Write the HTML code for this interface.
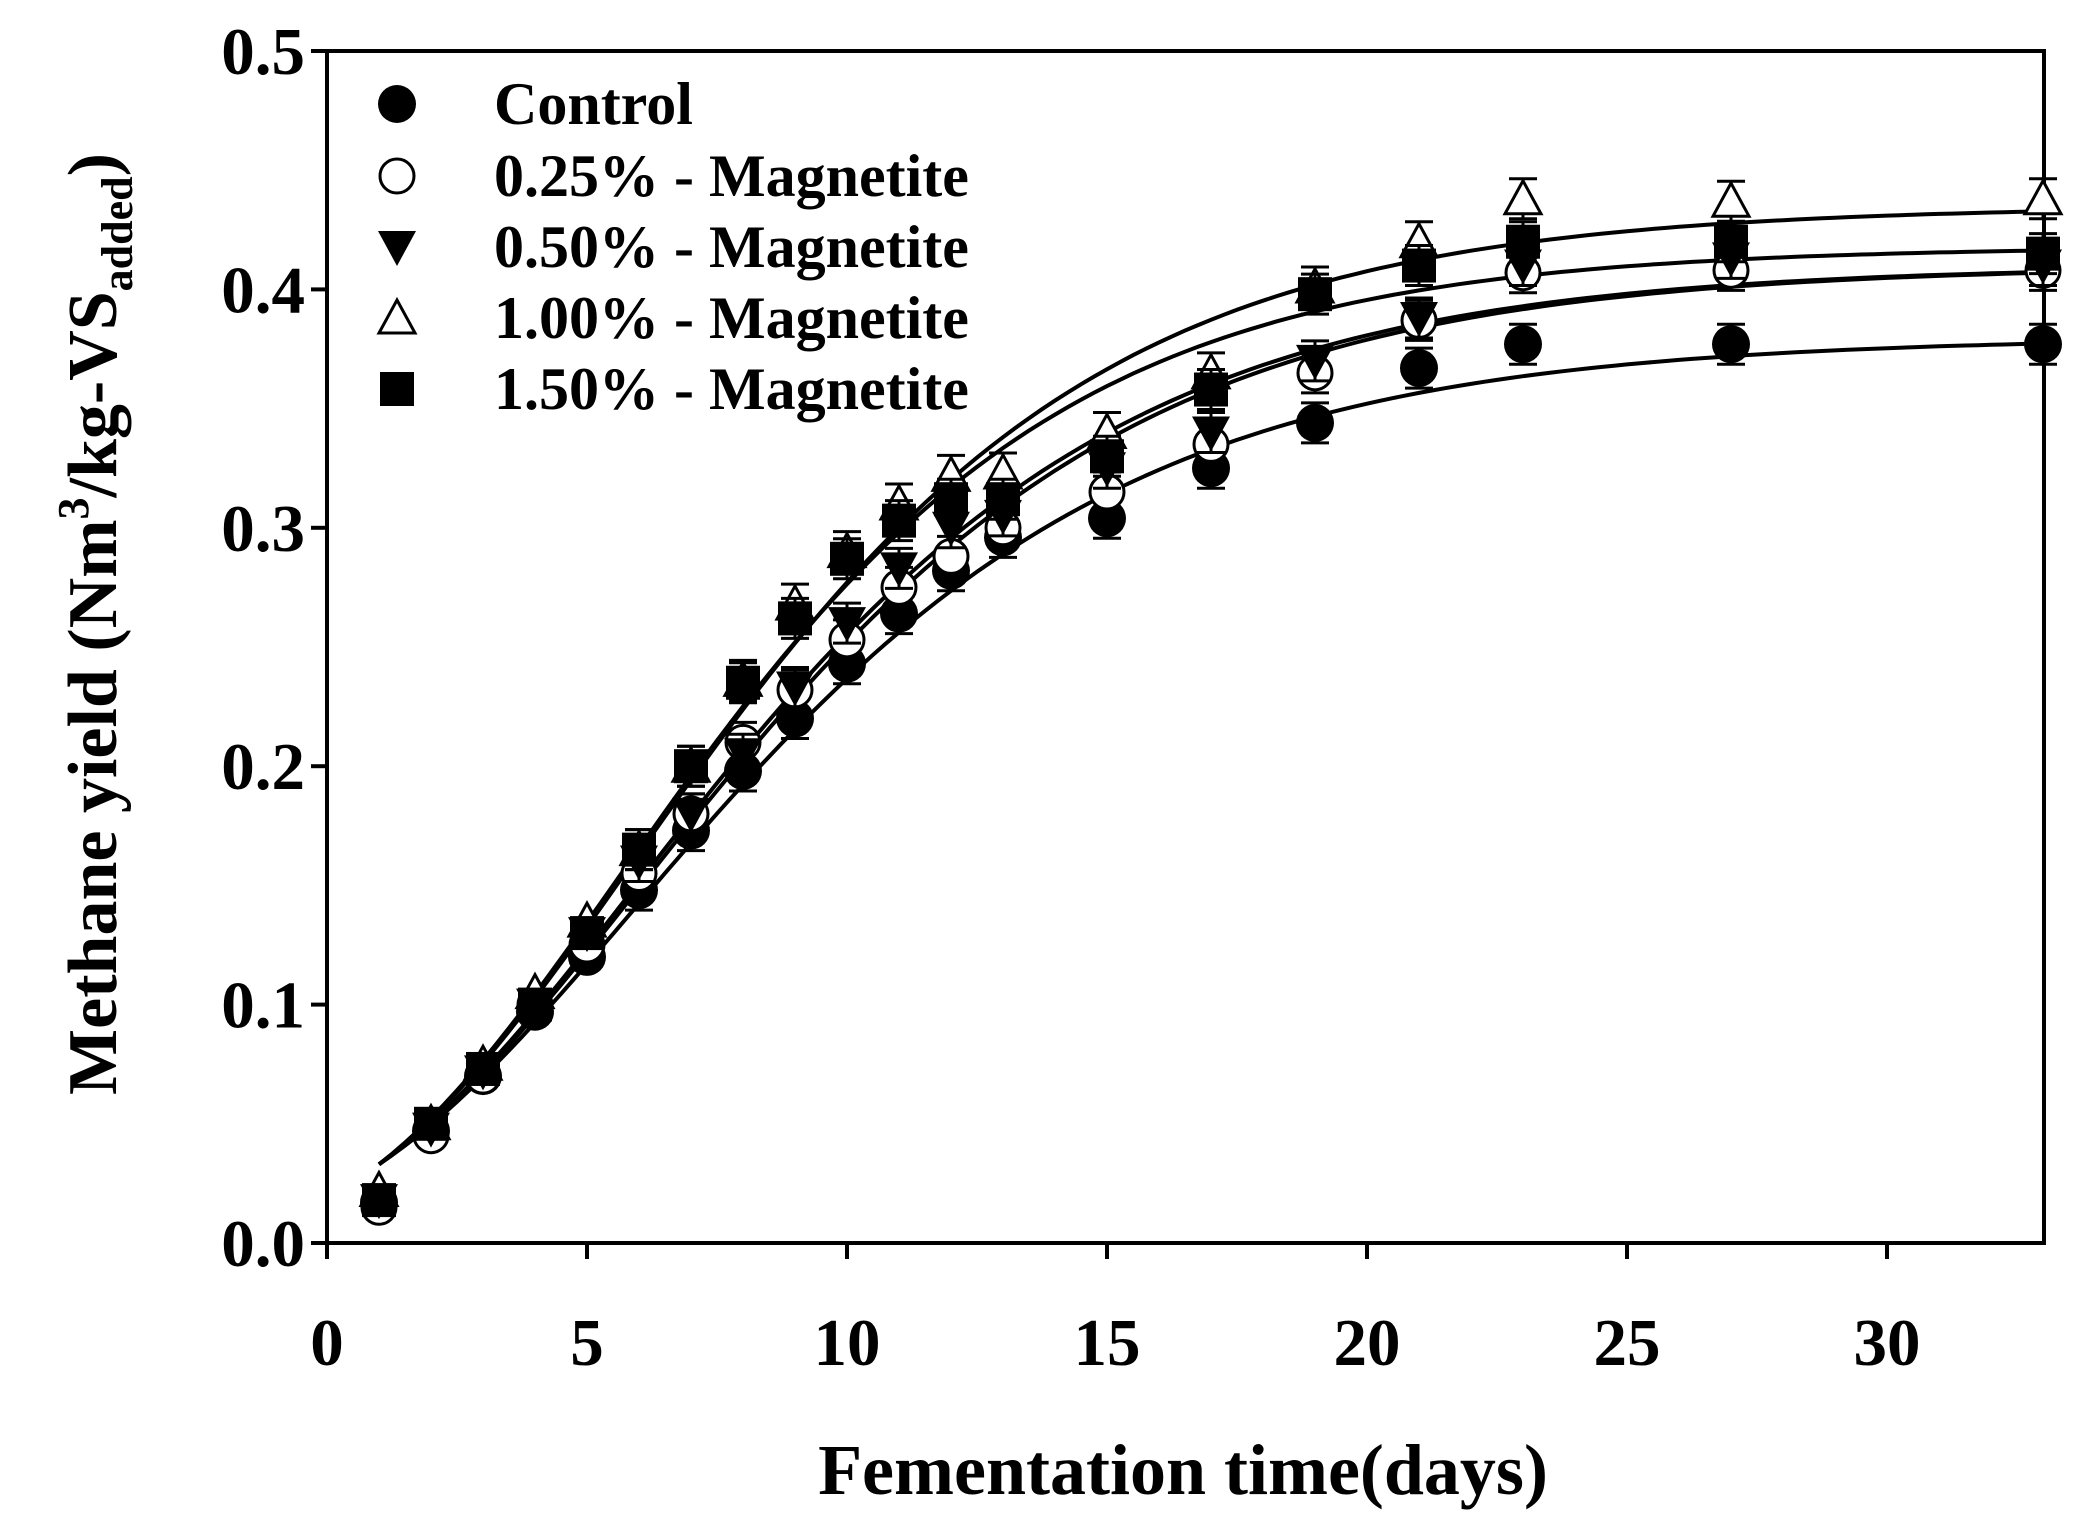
<!DOCTYPE html>
<html><head><meta charset="utf-8"><style>
html,body{margin:0;padding:0;background:#fff}
svg{display:block}
text{font-family:"Liberation Serif",serif;font-weight:bold;fill:#000}
</style></head><body>
<svg id="s" xmlns="http://www.w3.org/2000/svg" width="2095" height="1524" viewBox="0 0 2095 1524">
<rect width="2095" height="1524" fill="#fff"/>
<g stroke="#000" stroke-width="4" fill="none">
<line x1="327" y1="49" x2="327" y2="1245"/>
<line x1="325" y1="1243" x2="2046" y2="1243"/>
<line x1="2044" y1="49" x2="2044" y2="1245"/>
<line x1="325" y1="51" x2="2046" y2="51"/>
</g>
<g id="ticks" stroke="#000" stroke-width="4"></g>
<g id="lab" font-size="67"></g>
<g id="curves" stroke="#000" stroke-width="4" fill="none"></g>
<g id="pts"></g>
<text x="1183" y="1494" font-size="72" text-anchor="middle">Fementation time(days)</text>
<text transform="translate(116,624) rotate(-90)" font-size="70" text-anchor="middle">Methane yield (Nm<tspan font-size="44" dy="-28">3</tspan><tspan dy="28">/kg-VS</tspan><tspan font-size="44" dy="16">added</tspan><tspan dy="-16">)</tspan></text>
<g id="leg" font-size="60"></g>
</svg>
<script>
var NS="http://www.w3.org/2000/svg";
function X(t){return 327+52*t}
function Y(v){return 1243-v*2384}
function el(p,tag,a,txt){var e=document.createElementNS(NS,tag);for(var k in a)e.setAttribute(k,a[k]);if(txt!=null)e.textContent=txt;document.getElementById(p).appendChild(e);return e}
for(var i=0;i<=30;i+=5){el("ticks","line",{x1:X(i),y1:1243,x2:X(i),y2:1259});el("lab","text",{x:X(i),y:1365,"text-anchor":"middle"},""+i)}
for(var i=0;i<=5;i++){var y=Y(i/10);el("ticks","line",{x1:311,y1:y,x2:327,y2:y});el("lab","text",{x:305,y:y+23,"text-anchor":"end"},(i/10).toFixed(1))}
var T=[1,2,3,4,5,6,7,8,9,10,11,12,13,15,17,19,21,23,27,33];
var S=[
 {m:"fc",P:0.38,R:0.0255,d:[.017,.047,.07,.097,.12,.148,.173,.198,.22,.243,.264,.282,.296,.304,.325,.344,.367,.377,.377,.377]},
 {m:"oc",P:0.41,R:0.0275,d:[.015,.045,.07,.1,.125,.155,.18,.21,.232,.253,.275,.288,.3,.315,.335,.365,.387,.407,.408,.408]},
 {m:"ft",P:0.41,R:0.028,d:[.018,.048,.072,.1,.13,.16,.18,.205,.233,.26,.283,.3,.305,.325,.34,.37,.388,.41,.413,.41]},
 {m:"ot",P:0.435,R:0.031,d:[.022,.05,.075,.105,.135,.165,.2,.236,.268,.29,.31,.322,.323,.34,.365,.401,.42,.438,.437,.438]},
 {m:"fs",P:0.418,R:0.031,d:[.018,.05,.073,.1,.13,.165,.2,.235,.262,.287,.303,.312,.312,.33,.358,.398,.41,.42,.42,.415]}
];
function marker(g,m,x,y){
 if(m=="fc")el(g,"circle",{cx:x,cy:y,r:19,fill:"#000"});
 else if(m=="oc")el(g,"circle",{cx:x,cy:y,r:17,fill:"#fff",stroke:"#000","stroke-width":3});
 else if(m=="ft")el(g,"polygon",{points:(x-19)+","+(y-16)+" "+(x+19)+","+(y-16)+" "+x+","+(y+19),fill:"#000"});
 else if(m=="ot")el(g,"polygon",{points:(x-18)+","+(y+15)+" "+(x+18)+","+(y+15)+" "+x+","+(y-18),fill:"#fff",stroke:"#000","stroke-width":3});
 else el(g,"rect",{x:x-17,y:y-17,width:34,height:34,fill:"#000"});
}
S.forEach(function(s){
 var k=s.R*Math.E/s.P;var r=0.033/s.P;var lam=1+(Math.log(-Math.log(r))-1)/k;
 var d="";for(var t=1;t<=33.001;t+=0.25){var v=s.P*Math.exp(-Math.exp(k*(lam-t)+1));d+=(t==1?"M":"L")+X(t).toFixed(1)+","+Y(v).toFixed(1)}
 el("curves","path",{d:d});
});
S.forEach(function(s){
 s.d.forEach(function(v,i){var x=X(T[i]),y=Y(v);
  if(T[i]>=6){var e=20;el("pts","line",{x1:x,y1:y-e,x2:x,y2:y+e,stroke:"#000","stroke-width":3});el("pts","line",{x1:x-14,y1:y-e,x2:x+14,y2:y-e,stroke:"#000","stroke-width":3});el("pts","line",{x1:x-14,y1:y+e,x2:x+14,y2:y+e,stroke:"#000","stroke-width":3})}
  marker("pts",s.m,x,y)});
});
var L=["Control","0.25% - Magnetite","0.50% - Magnetite","1.00% - Magnetite","1.50% - Magnetite"];
var ly=[104,176,247,318,389];
for(var i=0;i<5;i++){marker("leg",S[i].m,397,ly[i]);el("leg","text",{x:494,y:ly[i]+20},L[i]);}
</script>
</body></html>
